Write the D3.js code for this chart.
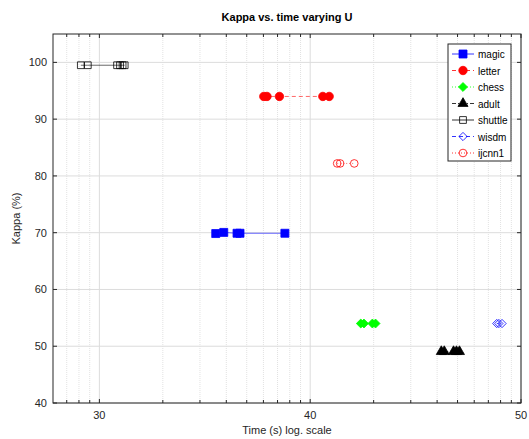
<!DOCTYPE html>
<html>
<head>
<meta charset="utf-8">
<script src="https://cdn.jsdelivr.net/npm/d3@7"></script>
<style>
  body { margin: 0; background: #fff; }
  text { font-family: "Liberation Sans", Arial, sans-serif; }
</style>
</head>
<body>
<svg id="chart"></svg>
<script>
const width = 529;
const height = 439;

// series data
const seriesNames = ['magic', 'letter', 'chess', 'adult', 'shuttle', 'wisdm', 'ijcnn1'];
const magicX = [35.52, 35.9, 36.53, 36.67, 38.8];
const magicY = [69.85, 70.05, 69.9, 69.9, 69.9];
const letterX = [37.8, 37.95, 38.54, 40.6, 40.9];
const letterY = [94, 94, 94, 94, 94];
const chessX = [42.4, 42.55, 42.95, 43.1];
const chessY = [54, 54, 54, 54];
const adultX = [46.22, 46.36, 46.8, 46.94, 47.08];
const adultY = [49.05, 49.05, 49.05, 49.05, 49.05];
const shuttleX = [29.12, 29.45, 30.84, 30.98, 31.1, 31.2];
const shuttleY = [99.5, 99.5, 99.5, 99.5, 99.5, 99.5];
const wisdmX = [48.85, 48.95, 49.1];
const wisdmY = [54, 54, 54];
const ijcnn1X = [41.28, 41.42, 42.09];
const ijcnn1Y = [82.2, 82.2, 82.2];

const xTicks = [30, 40, 50];
const yTicks = [40, 50, 60, 70, 80, 90, 100];

// MATLAB-like diamond: as wide as it is tall
const symbolDiamondWide = {
  draw(ctx, size) {
    const r = Math.sqrt(size / 2);
    ctx.moveTo(0, -r);
    ctx.lineTo(r, 0);
    ctx.lineTo(0, r);
    ctx.lineTo(-r, 0);
    ctx.closePath();
  }
};

const series = [
  { name: 'magic', xs: magicX, ys: magicY, color: '#0000ff', dash: null, symbol: d3.symbolSquare, size: 64, filled: true },
  { name: 'letter', xs: letterX, ys: letterY, color: '#ff0000', dash: '4,3', symbol: d3.symbolCircle, size: 56, filled: true },
  { name: 'chess', xs: chessX, ys: chessY, color: '#00ff00', dash: '1,2', symbol: symbolDiamondWide, size: 40, filled: true },
  { name: 'adult', xs: adultX, ys: adultY, color: '#000000', dash: '4,2,1,2', symbol: d3.symbolTriangle, size: 44, filled: true },
  { name: 'shuttle', xs: shuttleX, ys: shuttleY, color: '#000000', dash: null, symbol: d3.symbolSquare, size: 46, filled: false },
  { name: 'wisdm', xs: wisdmX, ys: wisdmY, color: '#0000ff', dash: '4,3', symbol: symbolDiamondWide, size: 34, filled: false },
  { name: 'ijcnn1', xs: ijcnn1X, ys: ijcnn1Y, color: '#ff0000', dash: '1,2', symbol: d3.symbolCircle, size: 46, filled: false }
];

const margin = { left: 53, right: 8, top: 34, bottom: 36 };
const plotW = width - margin.left - margin.right;
const plotH = height - margin.top - margin.bottom;

const x = d3.scaleLinear().domain([27.8, 50]).range([margin.left, margin.left + plotW]);
const y = d3.scaleLinear().domain([40, 105]).range([margin.top + plotH, margin.top]);

// minor ticks spaced like log decades between the major ticks
const minorX = [];
[20, 30, 40].forEach(b => {
  for (let k = 2; k <= 9; k++) {
    const v = b + 10 * Math.log10(k);
    if (v > x.domain()[0] && v < x.domain()[1]) minorX.push(v);
  }
});

const svg = d3.select('#chart')
  .attr('width', width)
  .attr('height', height);

// grid
svg.append('g')
  .selectAll('line')
  .data(minorX)
  .enter()
  .append('line')
  .attr('x1', d => x(d)).attr('x2', d => x(d))
  .attr('y1', y(40)).attr('y2', y(105))
  .attr('stroke', '#e2e2e2')
  .attr('stroke-dasharray', '1,1');

svg.append('g')
  .selectAll('line')
  .data(xTicks)
  .enter()
  .append('line')
  .attr('x1', d => x(d)).attr('x2', d => x(d))
  .attr('y1', y(40)).attr('y2', y(105))
  .attr('stroke', '#dcdcdc');

svg.append('g')
  .selectAll('line')
  .data(yTicks)
  .enter()
  .append('line')
  .attr('x1', x(27.8)).attr('x2', x(50))
  .attr('y1', d => y(d)).attr('y2', d => y(d))
  .attr('stroke', '#dcdcdc');

// series lines and markers
const line = d3.line().x(d => x(d[0])).y(d => y(d[1]));

series.forEach(s => {
  const pts = s.xs.map((v, i) => [v, s.ys[i]]);
  svg.append('path')
    .datum(pts)
    .attr('d', line)
    .attr('fill', 'none')
    .attr('stroke', s.color)
    .attr('stroke-width', 0.6)
    .attr('stroke-dasharray', s.dash);

  svg.append('g')
    .selectAll('path')
    .data(pts)
    .enter()
    .append('path')
    .attr('d', d3.symbol().type(s.symbol).size(s.size))
    .attr('transform', d => `translate(${x(d[0])},${y(d[1])})`)
    .attr('fill', s.filled ? s.color : 'none')
    .attr('stroke', s.color)
    .attr('stroke-width', 0.8);
});

// axes box
const axis = svg.append('g').attr('stroke', '#262626').attr('fill', 'none');
axis.append('rect')
  .attr('x', x(27.8)).attr('y', y(105))
  .attr('width', x(50) - x(27.8)).attr('height', y(40) - y(105))
  .attr('stroke-width', 1);

const tickLen = 4;
xTicks.concat(minorX).forEach(v => {
  const len = xTicks.includes(v) ? tickLen : 3;
  axis.append('line').attr('x1', x(v)).attr('x2', x(v)).attr('y1', y(40)).attr('y2', y(40) - len);
  axis.append('line').attr('x1', x(v)).attr('x2', x(v)).attr('y1', y(105)).attr('y2', y(105) + len);
});
yTicks.forEach(v => {
  axis.append('line').attr('x1', x(27.8)).attr('x2', x(27.8) + tickLen).attr('y1', y(v)).attr('y2', y(v));
  axis.append('line').attr('x1', x(50)).attr('x2', x(50) - tickLen).attr('y1', y(v)).attr('y2', y(v));
});

svg.append('g')
  .selectAll('text')
  .data(xTicks)
  .enter()
  .append('text')
  .attr('x', d => x(d))
  .attr('y', y(40) + 16)
  .attr('text-anchor', 'middle')
  .attr('font-size', 11)
  .attr('fill', '#262626')
  .text(d => d);

svg.append('g')
  .selectAll('text')
  .data(yTicks)
  .enter()
  .append('text')
  .attr('x', x(27.8) - 6)
  .attr('y', d => y(d) + 4)
  .attr('text-anchor', 'end')
  .attr('font-size', 11)
  .attr('fill', '#262626')
  .text(d => d);

// titles
svg.append('text')
  .attr('x', (x(27.8) + x(50)) / 2)
  .attr('y', 21)
  .attr('text-anchor', 'middle')
  .attr('font-size', 11)
  .attr('font-weight', 'bold')
  .text('Kappa vs. time varying U');

svg.append('text')
  .attr('x', (x(27.8) + x(50)) / 2)
  .attr('y', 434)
  .attr('text-anchor', 'middle')
  .attr('font-size', 11)
  .attr('fill', '#262626')
  .text('Time (s) log. scale');

svg.append('text')
  .attr('transform', `translate(20,${(y(40) + y(105)) / 2}) rotate(-90)`)
  .attr('text-anchor', 'middle')
  .attr('font-size', 11)
  .attr('fill', '#262626')
  .text('Kappa (%)');

// legend
const legend = svg.append('g').attr('transform', 'translate(448,44)');
legend.append('rect')
  .attr('width', 63).attr('height', 117)
  .attr('fill', '#fff')
  .attr('stroke', '#262626');

const item = legend.selectAll('g.item')
  .data(series)
  .enter()
  .append('g')
  .attr('class', 'item')
  .attr('transform', (d, i) => `translate(0,${10 + i * 16.5})`);

item.append('line')
  .attr('x1', 4).attr('x2', 26)
  .attr('stroke', d => d.color)
  .attr('stroke-width', 0.8)
  .attr('stroke-dasharray', d => d.dash);

item.append('path')
  .attr('d', d => d3.symbol().type(d.symbol).size(d.size)())
  .attr('transform', 'translate(15,0)')
  .attr('fill', d => d.filled ? d.color : 'none')
  .attr('stroke', d => d.color)
  .attr('stroke-width', 0.8);

item.append('text')
  .attr('x', 30)
  .attr('y', 4)
  .attr('font-size', 10)
  .attr('fill', '#000')
  .text(d => d.name);
</script>
</body>
</html>
